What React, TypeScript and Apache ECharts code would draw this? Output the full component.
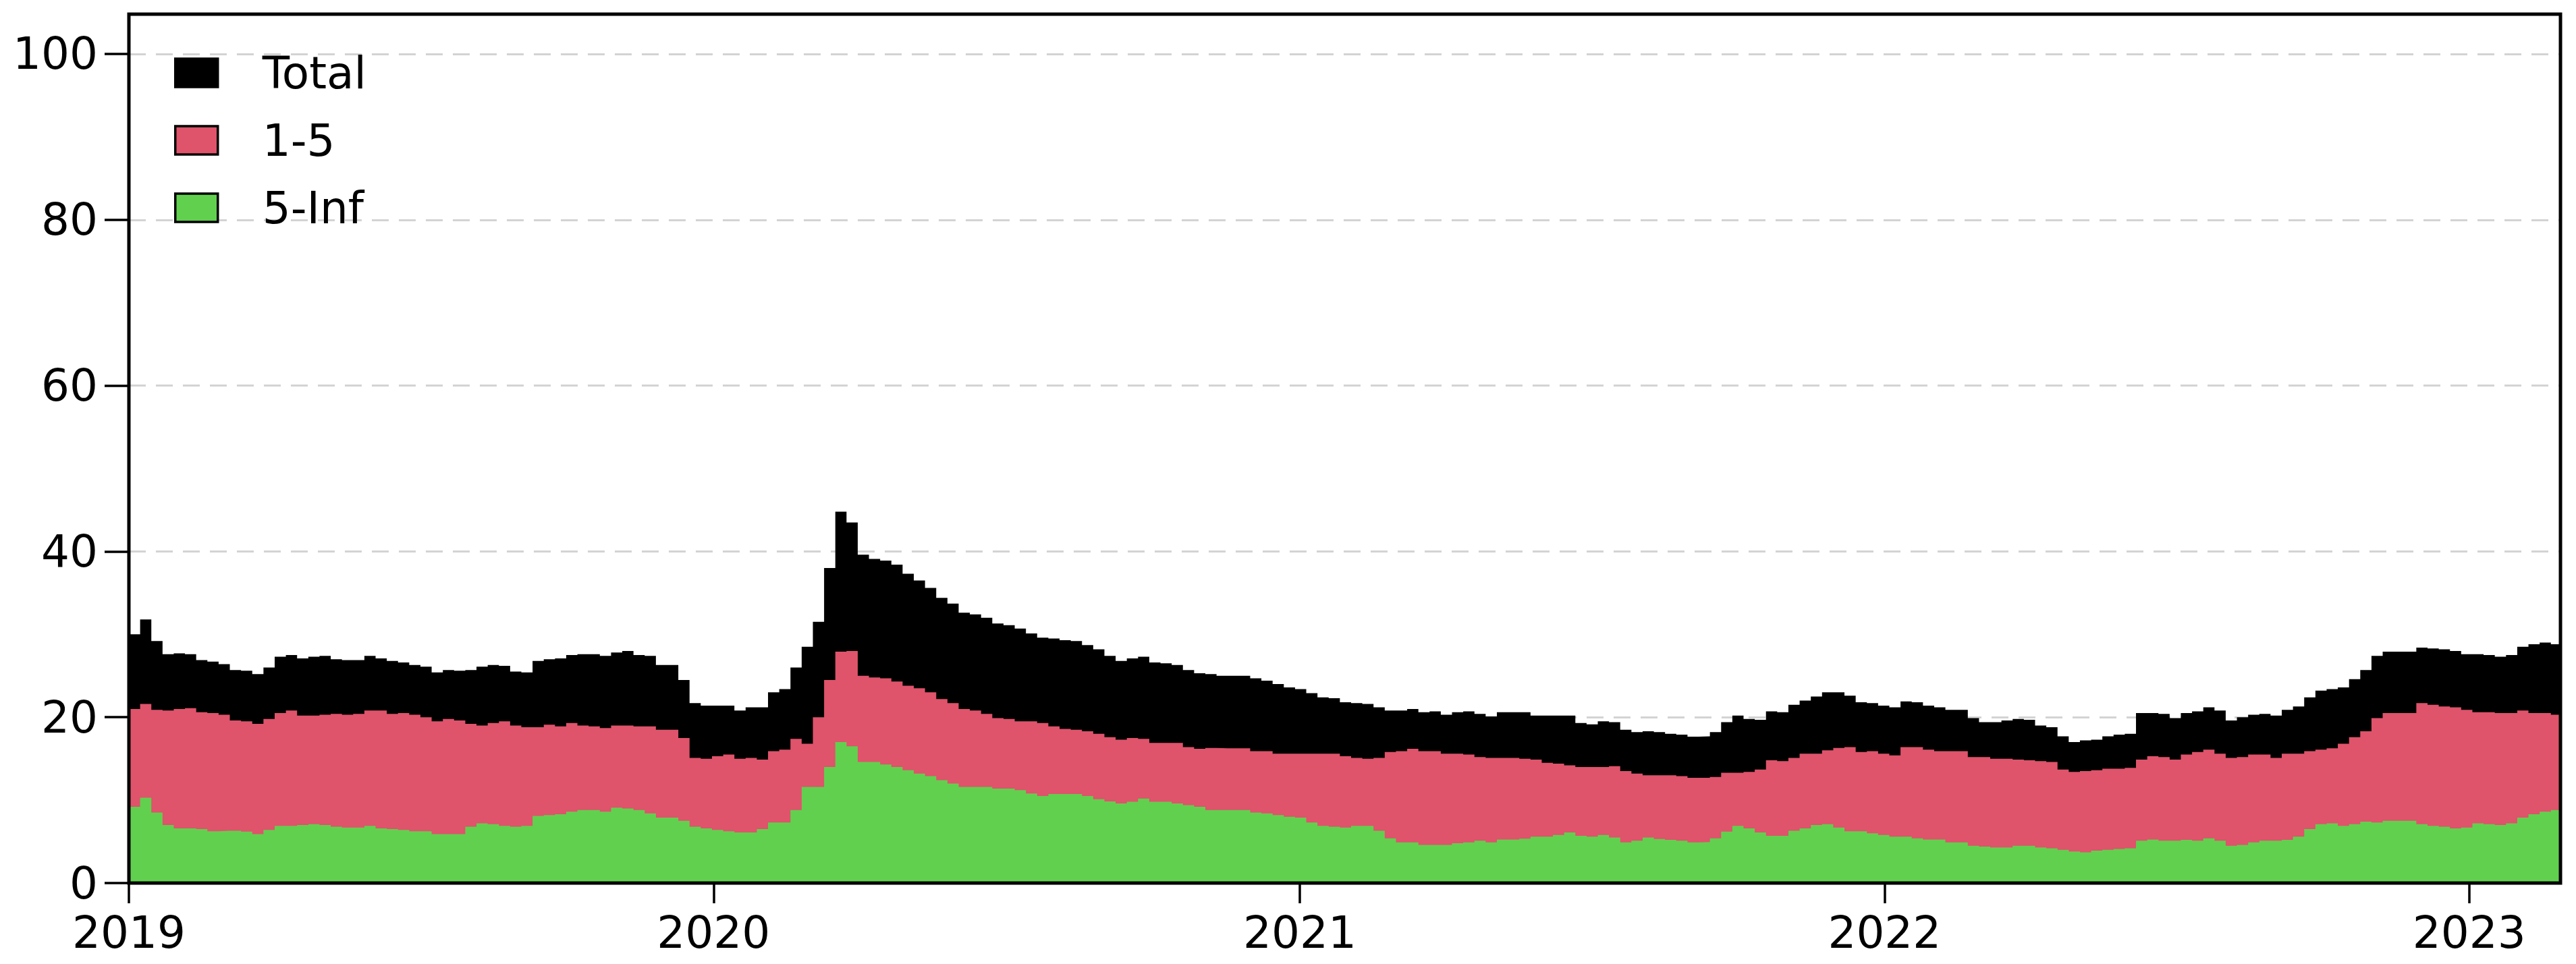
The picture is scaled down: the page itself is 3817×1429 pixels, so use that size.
import React, { useEffect, useRef } from 'react';
import * as echarts from 'echarts';

const START_DATE = [2019, 0, 1];
const STEP_DAYS = 7;
const END_DATE = [2023, 1, 27];
const yearTicks = [2019, 2020, 2021, 2022, 2023];
const yTickValues = [0, 20, 40, 60, 80, 100];
const seriesNames = ['Total', '1-5', '5-Inf'];
const seriesColors = ['#000000', '#DF536B', '#61D04F'];

const total = [
  30.0, 31.8, 29.2, 27.6, 27.7, 27.6, 26.9, 26.7, 26.4, 25.7, 25.6, 25.2, 26.0, 27.3, 27.5, 27.1, 27.3, 27.4,
  27.0, 26.9, 26.9, 27.4, 27.1, 26.8, 26.6, 26.3, 26.1, 25.4, 25.7, 25.6, 25.7, 26.1, 26.3, 26.2, 25.5, 25.4,
  26.8, 27.0, 27.1, 27.5, 27.6, 27.6, 27.4, 27.8, 28.0, 27.5, 27.4, 26.3, 26.3, 24.5, 21.7, 21.4, 21.4, 21.4,
  20.8, 21.2, 21.2, 23.0, 23.4, 26.0, 28.5, 31.5, 38.0, 44.8, 43.5, 39.6, 39.1, 38.9, 38.4, 37.3, 36.5, 35.6,
  34.4, 33.7, 32.6, 32.4, 32.0, 31.3, 31.1, 30.7, 30.1, 29.6, 29.5, 29.3, 29.2, 28.7, 28.2, 27.4, 26.8, 27.1,
  27.3, 26.6, 26.5, 26.3, 25.7, 25.3, 25.2, 25.0, 25.0, 25.0, 24.7, 24.4, 24.0, 23.6, 23.4, 22.9, 22.4, 22.3,
  21.8, 21.7, 21.6, 21.2, 20.8, 20.8, 21.0, 20.6, 20.7, 20.3, 20.6, 20.7, 20.4, 20.1, 20.6, 20.6, 20.6, 20.2,
  20.2, 20.2, 20.2, 19.3, 19.15, 19.5, 19.4, 18.5, 18.2, 18.3, 18.2, 18.0, 17.9, 17.65, 17.7, 18.2, 19.4, 20.2,
  19.8, 19.7, 20.7, 20.6, 21.5, 22.0, 22.5, 23.0, 23.0, 22.6, 21.8, 21.7, 21.4, 21.2, 21.9, 21.8, 21.4, 21.2,
  20.9, 20.9, 19.9, 19.4, 19.4, 19.6, 19.8, 19.7, 19.0, 18.8, 17.7, 17.0, 17.2, 17.3, 17.7, 17.9, 18.0, 20.5,
  20.5, 20.4, 19.9, 20.5, 20.7, 21.2, 20.8, 19.6, 20.0, 20.3, 20.4, 20.2, 20.9, 21.3, 22.4, 23.2, 23.4, 23.6,
  24.6, 25.7, 27.4, 27.9, 27.9, 27.9, 28.4, 28.3, 28.2, 28.0, 27.6, 27.6, 27.5, 27.3, 27.5, 28.5, 28.8, 29.0, 28.8,
];

const range1to5 = [
  21.0, 21.6, 20.9, 20.8, 21.0, 21.1, 20.6, 20.5, 20.3, 19.6, 19.5, 19.2, 19.8, 20.5, 20.8, 20.2, 20.2, 20.3,
  20.4, 20.3, 20.4, 20.8, 20.8, 20.4, 20.5, 20.3, 20.0, 19.5, 19.8, 19.6, 19.2, 19.0, 19.3, 19.5, 19.0, 18.8,
  18.8, 19.1, 18.9, 19.3, 19.0, 18.9, 18.7, 19.0, 19.0, 18.9, 18.9, 18.5, 18.5, 17.5, 15.1, 15.0, 15.3, 15.5,
  15.0, 15.1, 14.9, 15.9, 16.1, 17.4, 16.8, 20.0, 24.5, 27.9, 28.0, 25.0, 24.8, 24.7, 24.3, 23.8, 23.5, 23.0,
  22.2, 21.7, 21.0, 20.8, 20.4, 19.9, 19.8, 19.5, 19.5, 19.3, 18.9, 18.6, 18.5, 18.3, 18.0, 17.6, 17.3, 17.5,
  17.4, 16.9, 16.9, 16.9, 16.4, 16.2, 16.3, 16.25, 16.25, 16.25, 15.9, 15.9, 15.6, 15.6, 15.6, 15.6, 15.6, 15.6,
  15.3, 15.1, 15.0, 15.1, 15.8, 15.9, 16.2, 15.9, 15.9, 15.6, 15.6, 15.5, 15.2, 15.1, 15.1, 15.1, 15.0, 14.9,
  14.5, 14.4, 14.2, 14.0, 14.0, 14.0, 14.1, 13.5, 13.2, 13.0, 13.0, 13.0, 12.9, 12.7, 12.7, 12.8, 13.3, 13.3,
  13.4, 13.7, 14.8, 14.7, 15.1, 15.6, 15.6, 16.0, 16.3, 16.4, 15.8, 15.9, 15.6, 15.4, 16.4, 16.4, 16.1, 15.9,
  15.9, 15.9, 15.2, 15.2, 15.0, 15.0, 14.9, 14.8, 14.7, 14.6, 13.7, 13.4, 13.5, 13.6, 13.8, 13.8, 13.9, 14.9,
  15.3, 15.2, 14.9, 15.5, 15.8, 16.1, 15.6, 15.1, 15.2, 15.5, 15.5, 15.1, 15.6, 15.6, 15.9, 16.1, 16.25, 16.8,
  17.6, 18.3, 19.9, 20.5, 20.5, 20.5, 21.7, 21.5, 21.3, 21.2, 20.9, 20.6, 20.6, 20.5, 20.5, 20.8, 20.5, 20.5, 20.3,
];

const range5toInf = [
  9.2, 10.3, 8.5, 7.0, 6.6, 6.6, 6.5, 6.25, 6.3, 6.3, 6.2, 5.9, 6.4, 6.9, 6.9, 7.0, 7.1, 7.0,
  6.8, 6.7, 6.7, 6.9, 6.6, 6.5, 6.4, 6.25, 6.25, 5.9, 5.9, 5.9, 6.8, 7.2, 7.1, 6.9, 6.8, 6.9,
  8.1, 8.2, 8.3, 8.6, 8.8, 8.8, 8.6, 9.1, 9.0, 8.8, 8.4, 7.9, 7.9, 7.5, 6.8, 6.6, 6.4, 6.25,
  6.1, 6.1, 6.5, 7.3, 7.3, 8.8, 11.6, 11.6, 14.0, 17.0, 16.5, 14.6, 14.6, 14.3, 14.0, 13.6, 13.2, 12.9,
  12.4, 12.0, 11.6, 11.6, 11.6, 11.4, 11.4, 11.2, 10.8, 10.5, 10.75, 10.75, 10.75, 10.5, 10.1, 9.85, 9.6, 9.8,
  10.2, 9.8, 9.8, 9.6, 9.4, 9.2, 8.8, 8.8, 8.8, 8.8, 8.5, 8.4, 8.2, 8.0, 7.9, 7.3, 6.9, 6.8,
  6.7, 6.9, 6.9, 6.3, 5.4, 4.9, 4.9, 4.6, 4.6, 4.6, 4.8, 4.9, 5.1, 4.9, 5.25, 5.25, 5.35, 5.6,
  5.6, 5.8, 6.1, 5.7, 5.6, 5.8, 5.5, 4.9, 5.1, 5.5, 5.3, 5.2, 5.1, 4.9, 4.95, 5.4, 6.2, 6.9,
  6.6, 6.1, 5.7, 5.7, 6.3, 6.6, 7.0, 7.1, 6.7, 6.25, 6.25, 6.0, 5.8, 5.6, 5.6, 5.4, 5.25, 5.25,
  4.9, 4.9, 4.5, 4.4, 4.3, 4.3, 4.5, 4.5, 4.3, 4.2, 4.0, 3.8, 3.7, 3.9, 4.0, 4.1, 4.2, 5.1,
  5.25, 5.1, 5.1, 5.2, 5.1, 5.4, 5.1, 4.5, 4.6, 4.9, 5.1, 5.1, 5.2, 5.6, 6.5, 7.1, 7.2, 6.9,
  7.1, 7.4, 7.3, 7.5, 7.5, 7.5, 7.1, 6.9, 6.8, 6.6, 6.7, 7.2, 7.1, 7.0, 7.2, 7.9, 8.3, 8.6, 8.8,
];

const FONT = 'DejaVu Sans';

function buildSeriesData(values: number[]) {
  const out: [number, number][] = [];
  for (let i = 0; i < values.length; i++) {
    const t = new Date(START_DATE[0], START_DATE[1], START_DATE[2] + i * STEP_DAYS).getTime();
    out.push([t, values[i]]);
  }
  const endT = new Date(END_DATE[0], END_DATE[1], END_DATE[2]).getTime();
  out.push([endT, values[values.length - 1]]);
  return out;
}

export default function App() {
  const ref = useRef<HTMLDivElement>(null);
  useEffect(() => {
    if (!ref.current) return;
    const chart = echarts.init(ref.current, undefined, { renderer: 'svg' });
    const startT = new Date(START_DATE[0], START_DATE[1], START_DATE[2]).getTime();
    const endT = new Date(END_DATE[0], END_DATE[1], END_DATE[2]).getTime();
    const xTicks = yearTicks.map((y) => new Date(y, 0, 1).getTime());
    const allValues = [total, range1to5, range5toInf];
    const option: any = {
      animation: false,
      backgroundColor: '#ffffff',
      grid: {
        left: 191,
        right: 23,
        top: 21,
        bottom: 120,
        show: true,
        z: 10,
        borderColor: '#000000',
        borderWidth: 5,
        backgroundColor: 'transparent',
      },
      legend: {
        orient: 'vertical',
        left: 258,
        top: 75,
        padding: 0,
        itemWidth: 63,
        itemHeight: 42,
        itemGap: 34,
        icon: 'rect',
        data: seriesNames,
        textStyle: {
          fontFamily: FONT,
          fontSize: 66,
          color: '#000',
          lineHeight: 42,
          padding: [8, 0, 0, 61],
        },
        itemStyle: { borderColor: '#000', borderWidth: 3.5 },
      },
      xAxis: {
        type: 'value',
        min: startT,
        max: endT,
        axisLine: { show: false },
        axisTick: {
          show: true,
          inside: false,
          length: 30,
          lineStyle: { width: 3.5, color: '#000' },
          customValues: xTicks,
        },
        axisLabel: {
          customValues: xTicks,
          formatter: (v: number) => String(new Date(v).getFullYear()),
          margin: 40,
          fontFamily: FONT,
          fontSize: 66,
          color: '#000',
        },
        splitLine: { show: false },
      },
      yAxis: {
        type: 'value',
        min: 0,
        max: 104.8,
        interval: 20,
        axisLine: { show: false },
        axisTick: {
          show: true,
          length: 36,
          lineStyle: { width: 3.5, color: '#000' },
          customValues: yTickValues,
        },
        axisLabel: {
          customValues: yTickValues,
          margin: 46,
          fontFamily: FONT,
          fontSize: 66,
          color: '#000',
        },
        splitLine: {
          show: true,
          lineStyle: { color: '#D3D3D3', width: 3, type: [25, 15] },
        },
      },
      series: seriesNames.map((name, i) => ({
        name,
        type: 'line',
        step: 'end',
        data: buildSeriesData(allValues[i]),
        showSymbol: false,
        symbol: 'none',
        color: seriesColors[i],
        itemStyle: { color: seriesColors[i] },
        lineStyle: { width: 0, color: seriesColors[i] },
        areaStyle: { color: seriesColors[i], opacity: 1 },
        z: 2 + i,
      })),
    };
    chart.setOption(option);
    return () => chart.dispose();
  }, []);
  return (
    <div
      ref={ref}
      style={{ position: 'absolute', left: 0, top: 0, width: 3817, height: 1429, background: '#fff' }}
    />
  );
}
